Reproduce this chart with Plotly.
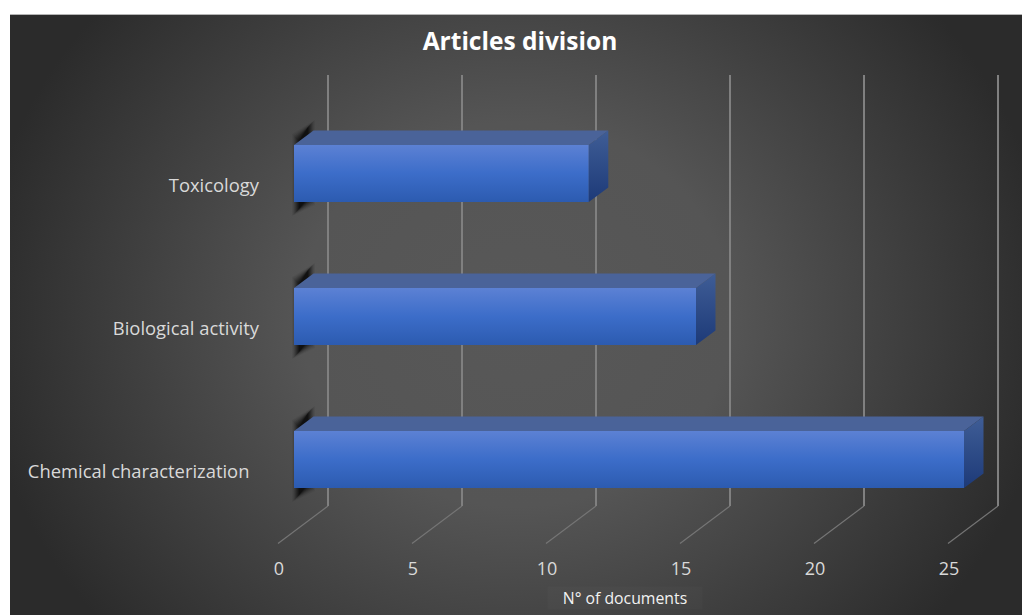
import plotly.graph_objects as go

categories = ["Chemical characterization", "Biological activity", "Toxicology"]
category_labels = ["Chemical characterization\u00a0\u00a0", "Biological activity", "Toxicology"]
documents = [25, 15, 11]
tick_values = [0, 5, 10, 15, 20, 25]

W, H = 1022, 615
L, T = 10, 14
PX_PER_UNIT = 26.8
PX_PER_ROW = 143.0
ZERO_PX = 294.0
ROW0_PX = 459.5
BAR_PX = 57.0
DEPTH_X, DEPTH_Y = 19.5, 14.5
GRID_ZERO_PX = 328.0
GRID_TOP, GRID_BOTTOM = 75.0, 506.0
FONT = "Open Sans"

ux = lambda px: px / PX_PER_UNIT
uy = lambda px: px / PX_PER_ROW
rows = list(range(len(categories)))
half = uy(BAR_PX) / 2
dx, dy = ux(DEPTH_X), uy(DEPTH_Y)

fig = go.Figure()

# Holds the grid subplot
fig.add_trace(go.Scatter(x=tick_values, y=[0] * len(tick_values), xaxis="x", yaxis="y", mode="lines",
                         line=dict(color="rgba(0,0,0,0)", width=0), showlegend=False, hoverinfo="skip"))

# Floor lines of the 3-D look
floor_x, floor_y = [], []
for t in tick_values:
    gx = t + ux(GRID_ZERO_PX - ZERO_PX)
    floor_x += [gx, gx - ux(50), None]
    floor_y += [uy(ROW0_PX - GRID_BOTTOM), uy(ROW0_PX - GRID_BOTTOM - 37.5), None]
fig.add_trace(go.Scatter(x=floor_x, y=floor_y, xaxis="x2", yaxis="y2", mode="lines",
                         line=dict(color="#757575", width=1.2),
                         showlegend=False, hoverinfo="skip"))

# Front faces
fig.add_trace(go.Bar(x=documents, y=rows, orientation="h", width=uy(BAR_PX), xaxis="x2", yaxis="y2",
                     marker=dict(color="#3b6cc8", line=dict(width=0)), showlegend=False, hoverinfo="skip"))

# Top faces
for v, r in zip(documents, rows):
    fig.add_trace(go.Scatter(x=[0, dx, v + dx, v, 0], y=[r + half, r + half + dy, r + half + dy, r + half, r + half],
                             xaxis="x2", yaxis="y2", mode="lines", fill="toself", fillcolor="#4a6399",
                             line=dict(width=0), showlegend=False, hoverinfo="skip"))
# Side faces
for v, r in zip(documents, rows):
    fig.add_trace(go.Scatter(x=[v, v + dx, v + dx, v, v], y=[r + half, r + half + dy, r - half + dy, r - half, r + half],
                             xaxis="x2", yaxis="y2", mode="lines", fill="toself", fillcolor="#2e4a88",
                             line=dict(width=0), showlegend=False, hoverinfo="skip"))

# Soft wall shadows behind the bar starts: nested translucent polygons
shapes = []
for r in rows:
    for e, a in ((5, .05), (4, .07), (3, .1), (2, .14), (1, .18), (0, .22), (-1, .26), (-2, .3)):
        pts = [(ux(3 - e), r + half + uy(6 + e)), (ux(16 + e), r + half + uy(20 + e)),
               (ux(16 + e), r - half + uy(2 - e)), (ux(3 - e), r - half + uy(-9 - e))]
        path = "M " + " L ".join(f"{p:.4f},{q:.4f}" for p, q in pts) + " Z"
        shapes.append(dict(type="path", path=path, xref="x2", yref="y2", layer="below",
                           fillcolor=f"rgba(0,0,0,{a})", line=dict(width=0)))

span_px = W - L
fig.update_layout(
    width=W, height=H,
    margin=dict(l=L, r=0, t=T, b=0),
    paper_bgcolor="rgba(0,0,0,0)", plot_bgcolor="rgba(0,0,0,0)",
    hovermode=False, showlegend=False, barmode="overlay",
    font=dict(family=FONT, color="#d9d9d9"),
    title=dict(text="<b>Articles division</b>", x=520 / W, xref="container", xanchor="center",
               y=1 - 41 / H, yref="container", yanchor="middle",
               font=dict(family=FONT, size=24.5, color="#ffffff")),
    xaxis=dict(domain=[0, 1], range=[ux(L - GRID_ZERO_PX), ux(W - GRID_ZERO_PX)], anchor="y",
               tickmode="array", tickvals=tick_values, ticktext=[str(t) for t in tick_values],
               showgrid=True, gridcolor="#808080", gridwidth=1.4, zeroline=False, showline=False,
               ticks="", ticklabelshift=-49, ticklabelstandoff=50,
               tickfont=dict(family=FONT, size=18, color="#d9d9d9")),
    yaxis=dict(domain=[(H - GRID_BOTTOM) / (H - T), (H - GRID_TOP) / (H - T)], range=[0, 1], anchor="x",
               visible=False),
    xaxis2=dict(domain=[0, 1], range=[ux(L - ZERO_PX), ux(W - ZERO_PX)], anchor="y2", visible=False),
    yaxis2=dict(domain=[0, 1], range=[uy(ROW0_PX - H), uy(ROW0_PX - T)], anchor="free",
                position=(259 - L) / span_px,
                tickmode="array", tickvals=rows, ticktext=category_labels,
                showgrid=False, zeroline=False, showline=False, ticks="", ticklabelshift=12,
                tickfont=dict(family=FONT, size=18.4, color="#d9d9d9")),
    shapes=shapes,
    annotations=[dict(text="N° of documents", xref="paper", yref="paper",
                      x=(625 - L) / span_px, y=(H - 598) / (H - T), xanchor="center", yanchor="middle",
                      showarrow=False, bgcolor="rgba(255,255,255,0.02)", width=152, height=20,
                      font=dict(family=FONT, size=15.8, color="#f2f2f2"))],
)

post = """
var gd = document.getElementById('{plot_id}');
document.documentElement.style.overflow = 'hidden';
document.body.style.margin = '0';
document.body.style.background =
  'linear-gradient(#b5b5b5,#b5b5b5) 10px 14px / 1012px 1px no-repeat,' +
  'radial-gradient(ellipse 540px 480px at 50% 50%, #585858 0%, #555555 40%, #2b2b2b 100%) 10px 14px / 1012px 601px no-repeat #ffffff';
var svg = gd.querySelector('svg.main-svg');
var NS = 'http://www.w3.org/2000/svg';
var defs = document.createElementNS(NS, 'defs');
function grad(id, stops) {
  var g = document.createElementNS(NS, 'linearGradient');
  g.setAttribute('id', id); g.setAttribute('x1', 0); g.setAttribute('y1', 0); g.setAttribute('x2', 0); g.setAttribute('y2', 1);
  stops.forEach(function (s) {
    var st = document.createElementNS(NS, 'stop');
    st.setAttribute('offset', s[0]); st.setAttribute('stop-color', s[1]); g.appendChild(st);
  });
  defs.appendChild(g);
}
grad('frontFace', [[0, '#5c81d4'], [0.5, '#3c6dc9'], [1, '#2c5bb0']]);
grad('sideFace', [[0, '#3f5d96'], [1, '#1d3a78']]);
svg.insertBefore(defs, svg.firstChild);
function paint() {
  gd.querySelectorAll('.bars .point path').forEach(function (p) { p.style.fill = 'url(#frontFace)'; });
  var traces = gd.querySelectorAll('.subplot.x2y2 .scatterlayer .trace');
  for (var i = 4; i < traces.length; i++) {
    var fp = traces[i].querySelector('.js-fill');
    if (fp) fp.style.fill = 'url(#sideFace)';
  }
}
paint();
setTimeout(paint, 0);
setTimeout(paint, 200);
"""

fig.write_html("out.html", post_script=post, config=dict(displayModeBar=False, staticPlot=True))
